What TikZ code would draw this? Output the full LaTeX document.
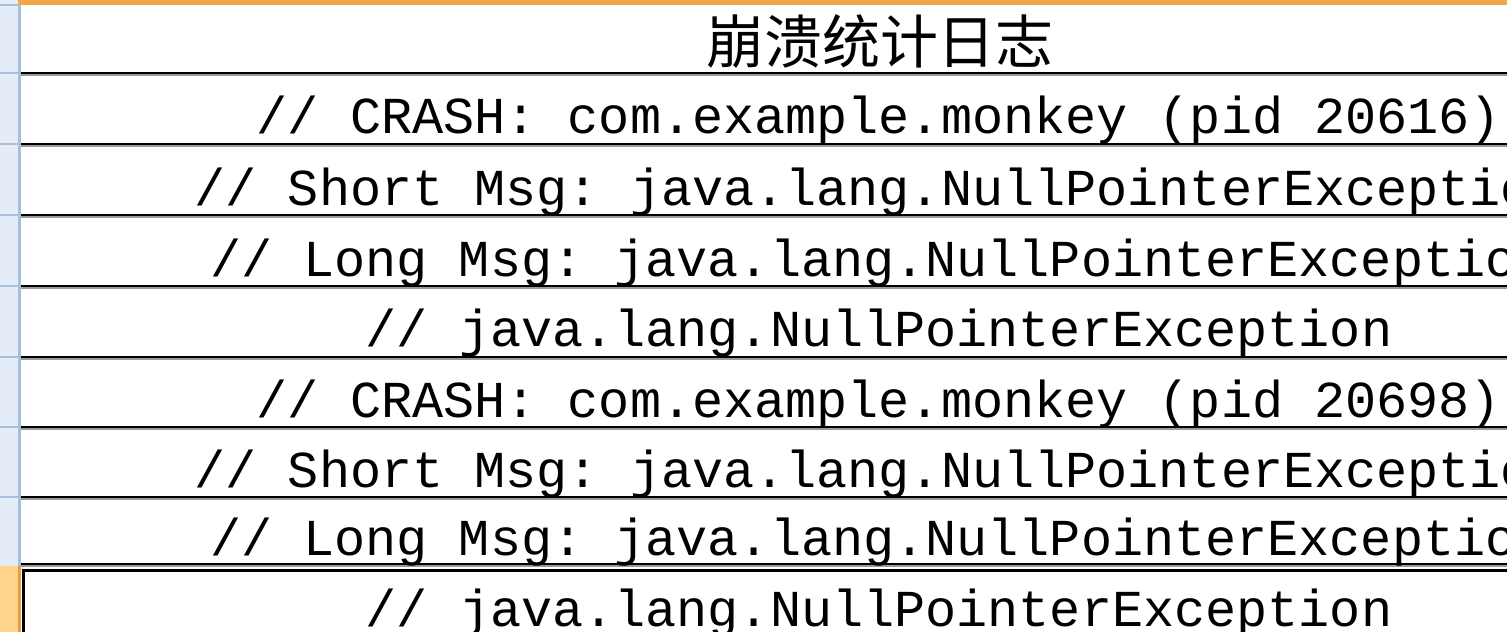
\documentclass[tikz,border=0pt]{standalone}
\usepackage{fontspec}
\setmonofont{Liberation Mono}
\newfontfamily\cjk{Noto Sans CJK SC}
\definecolor{hdrblue}{HTML}{E4ECF7}
\definecolor{hdrline}{HTML}{A7BFDA}
\definecolor{selorange}{HTML}{FFD58D}
\definecolor{selline}{HTML}{F29A3A}
\definecolor{colorange}{HTML}{F2A64A}
\definecolor{gridgray}{HTML}{9A9A9A}
\begin{document}
\begin{tikzpicture}[x=0.1mm,y=-0.1mm,
  logtext/.style={anchor=base,inner sep=0pt,text=black,
    font=\ttfamily\fontsize{14.75}{16}\selectfont},
  titletext/.style={anchor=base,inner sep=0pt,text=black,
    font=\cjk\fontsize{16.5}{18}\selectfont}]
\useasboundingbox (0,0) rectangle (1507,632);
\clip (0,0) rectangle (1507,632);
% row headers on the left
\fill[hdrblue] (0,0) rectangle (20,632);
\fill[selorange] (0,566) rectangle (20,632);
\foreach \y in {5,73,144,215,286,357,427,497}
  \draw[hdrline,line width=0.15mm] (0,\y) -- (20,\y);
\draw[hdrline,line width=0.25mm] (19.5,0) -- (19.5,566);
\draw[selline,line width=0.25mm] (19.5,566) -- (19.5,632);
% column header edge
\fill[colorange] (18,0) rectangle (1507,5);
% cell borders
\foreach \y in {73,144,215,286,357,427,497,564} {
  \draw[gridgray,line width=0.12mm] (21,\y+2) -- (1507,\y+2);
  \draw[black,line width=0.2mm] (21,\y) -- (1507,\y);
}
% active cell
\draw[black,line width=0.3mm] (23.5,632) -- (23.5,570.5) -- (1507,570.5);

\node[titletext] (title) at (880,64) {崩溃统计日志};

\node[logtext] (crash-1) at (879,134) {// CRASH: com.example.monkey (pid 20616)};
\node[logtext] (short-1) at (879,206) {// Short Msg: java.lang.NullPointerException};
\node[logtext] (long-1) at (879,277) {// Long Msg: java.lang.NullPointerException};
\node[logtext] (npe-1) at (879,347) {// java.lang.NullPointerException};
\node[logtext] (crash-2) at (879,418) {// CRASH: com.example.monkey (pid 20698)};
\node[logtext] (short-2) at (879,488) {// Short Msg: java.lang.NullPointerException};
\node[logtext] (long-2) at (879,556) {// Long Msg: java.lang.NullPointerException};
\node[logtext] (npe-2) at (879,627) {// java.lang.NullPointerException};
\end{tikzpicture}
\end{document}
